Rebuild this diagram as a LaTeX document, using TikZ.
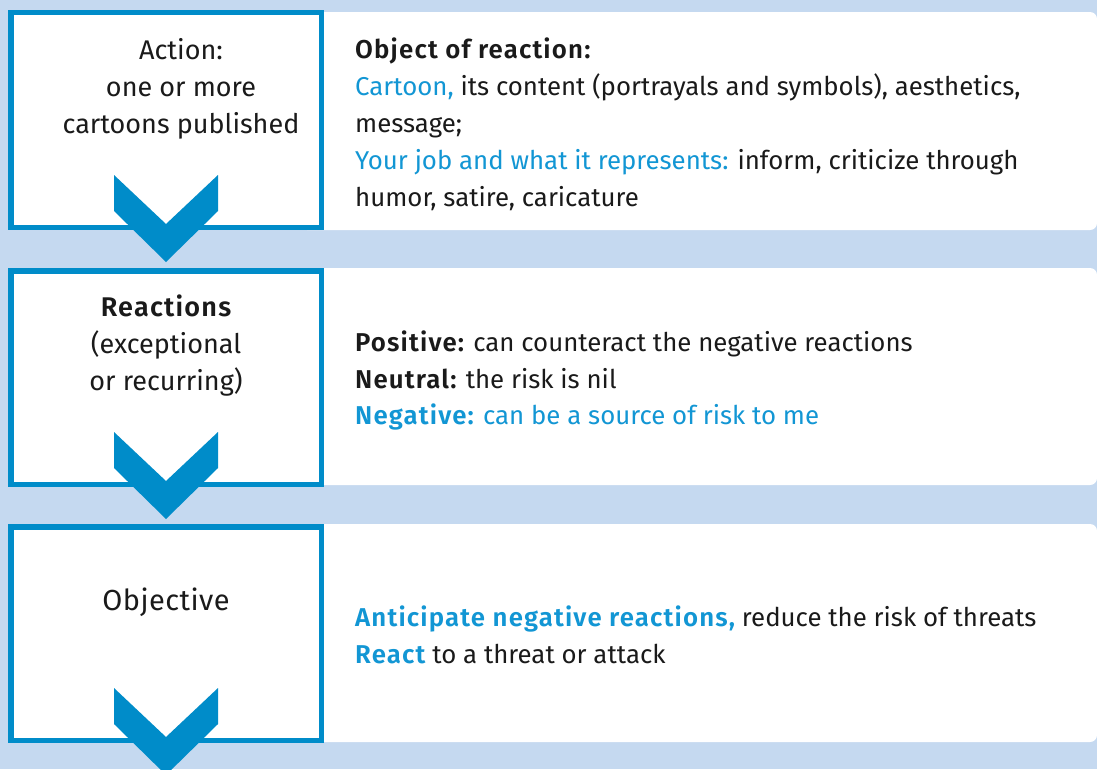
\documentclass[tikz,border=0pt]{standalone}
\usepackage{fontspec}
\setmainfont{Fira Sans}[BoldFont={Fira Sans SemiBold},BoldFeatures={LetterSpace=4.5}]
\definecolor{bgblue}{RGB}{197,217,240}
\definecolor{mainblue}{RGB}{0,140,201}
\definecolor{txtblue}{RGB}{18,150,212}
\definecolor{txt}{RGB}{26,26,26}
\begin{document}
\begin{tikzpicture}[x=1pt,y=-1pt,
  stagebox/.style={draw=mainblue,line width=5.5pt,fill=white},
  panel/.style={fill=white,rounded corners=7pt},
  chev/.style={fill=mainblue},
  lbl/.style={font=\fontsize{27}{37}\selectfont, text=txt, inner sep=0pt, anchor=base},
  lft/.style={lbl, font=\fontsize{25.8}{37}\selectfont, anchor=base west}
]
\clip (0,0) rectangle (1097,769);
\fill[bgblue] (0,0) rectangle (1097,769);

% right panels
\fill[panel] (300,12) rectangle (1097,230);
\fill[panel] (300,268) rectangle (1097,485);
\fill[panel] (300,524) rectangle (1097,742);

% left stage boxes
\draw[stagebox] (10.75,12.25) rectangle (321.25,227.25);
\draw[stagebox] (10.75,270.75) rectangle (321.25,484.25);
\draw[stagebox] (10.75,526.75) rectangle (321.25,740.25);

% chevrons
\foreach \b in {230,487,743}{
  \fill[chev] (114,\b-55) -- (166,\b-6) -- (218,\b-55) -- (218,\b-19)
     -- (166,\b+32) -- (114,\b-19) -- cycle;
}

% box texts
\node[lbl] (a1) at (181,59) {Action:};
\node[lbl] (a2) at (181,96) {one or more};
\node[lbl] (a3) at (181,133) {cartoons published};

\node[lbl] (r1) at (166,316) {\bfseries\addfontfeature{LetterSpace=2}Reactions};
\node[lbl] (r2) at (166,353) {(exceptional};
\node[lbl] (r3) at (166,390) {or recurring)};

\node[lbl, font=\fontsize{29}{37}\selectfont] (o1) at (166,610) {\addfontfeature{LetterSpace=1.5}Objective};

% panel texts
\node[lft] (p11) at (355,58) {\bfseries Object of reaction:};
\node[lft] (p12) at (355,95) {{\color{txtblue}Cartoon,} its content (portrayals and symbols), aesthetics,};
\node[lft] (p13) at (355,132) {message;};
\node[lft] (p14) at (355,169) {{\color{txtblue}Your job and what it represents:} inform, criticize through};
\node[lft] (p15) at (355,206) {humor, satire, caricature};

\node[lft] (p21) at (355,351) {{\bfseries Positive:} can counteract the negative reactions};
\node[lft] (p22) at (355,388) {{\bfseries Neutral:} the risk is nil};
\node[lft,text=txtblue] (p23) at (355,424) {{\bfseries Negative:} can be a source of risk to me};

\node[lft] (p31) at (355,626) {{\color{txtblue}\bfseries Anticipate negative reactions,} reduce the risk of threats};
\node[lft] (p32) at (355,663) {{\color{txtblue}\bfseries React} to a threat or attack};
\end{tikzpicture}
\end{document}
